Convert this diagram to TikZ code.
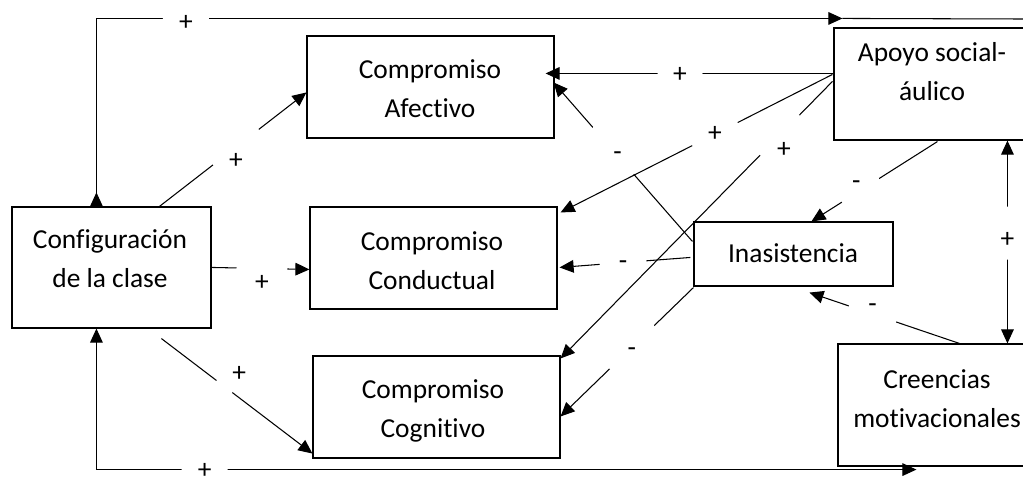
\documentclass[tikz,border=0pt]{standalone}
\usepackage{fontspec}
\setmainfont{Carlito}[Ligatures=NoCommon]
\usetikzlibrary{calc,fit,arrows.meta}

\begin{document}
\begin{tikzpicture}[x=0.025cm, y=-0.025cm,
  >={Triangle[length=10pt,width=9pt]},
  box/.style={draw, line width=0.8pt, inner sep=0pt},
  txt/.style={align=center, inner sep=0pt, font=\fontsize{19.5}{27.7}\selectfont},
  conn/.style={line width=0.75pt},
  gap/.style={circle, fill=white, inner sep=0pt, minimum size=#1*0.025cm},
  sign/.style={inner sep=0pt, font=\fontsize{19.5}{22}\selectfont}]

\useasboundingbox (0,0) rectangle (1023,481);
\clip (0,0) rectangle (1023,481);

%boxes
\node[box, fit={(12,207) (211,328)}] (cfg) {};
\node[box, fit={(307,36) (554,138)}] (afe) {};
\node[box, fit={(310,207) (557,309)}] (con) {};
\node[box, fit={(313,356) (560,458)}] (cog) {};
\node[box, fit={(834,28) (1030,140)}] (apo) {};
\node[box, fit={(694,222) (893,286)}] (ina) {};
\node[box, fit={(838,344) (1036,466)}] (cre) {};

%texts
\node[txt] (cfg-t) at (110,259) {Configuración\\de la clase};
\node[txt] (afe-t) at (430,89) {Compromiso\\Afectivo};
\node[txt] (con-t) at (432,261) {Compromiso\\Conductual};
\node[txt] (cog-t) at (433,411) {Compromiso\\Cognitivo};
\node[txt] (apo-t) at (932,72) {Apoyo social-\\áulico};
\node[txt] (ina-t) at (793,253) {Inasistencia};
\node[txt] (cre-t) at (937,399) {Creencias\\motivacionales};

%crossing lines first
\draw[conn, ->] ($(ina.north west)+(-1,20)$) -- node[gap=62, pos=.57, label={[sign, name=s-e, xshift=3pt, yshift=-4pt]center:-}] (g-e) {} ($(afe.north east)+(-1,47)$);
\draw[conn, ->] ($(ina.north west)+(-3,36)$) -- node[gap=47, pos=.515, label={[sign, name=s-k, yshift=-1.5pt]center:-}] (g-k) {} ($(con.north east)+(2,61)$);
\draw[conn, ->] ($(ina.south west)+(0,1)$) -- node[gap=62, pos=.463, label={[sign, name=s-l, yshift=-3.5pt]center:-}] (g-l) {} ($(cog.north east)+(0,61)$);
\draw[conn, ->] ($(apo.north west)+(-1,54)$) -- node[gap=56, pos=.194, label={[sign, name=s-g, xshift=3pt, yshift=-10.5pt]center:+}] (g-g) {} ($(cog.north east)+(0,3)$);
\draw[conn, ->] ($(apo.north west)+(-1,47)$) -- node[gap=51, pos=.432, label={[sign, name=s-f]center:+}] (g-f) {} ($(con.north east)+(3,6)$);
\draw[conn, ->] ($(apo.north west)+(0,46)$) -- node[gap=45, pos=.533, label={[sign, name=s-d, yshift=-1pt]center:+}] (g-d) {} ($(afe.north east)+(-9,38)$);

%class to engagement
\draw[conn, ->] ($(cfg.north west)+(148,0)$) -- node[gap=58, pos=.52, label={[sign, name=s-a, yshift=-10pt]center:+}] (g-a) {} ($(afe.north west)+(0,57)$);
\draw[conn, ->] ($(cfg.north east)+(0,61)$) -- node[gap=51, pos=.515, label={[sign, name=s-b, yshift=-10pt]center:+}] (g-b) {} ($(con.north west)+(0,63)$);
\draw[conn, ->] ($(cfg.south west)+(150,10)$) -- node[gap=20, pos=.417, label={[sign, name=s-c, xshift=10.5pt, yshift=9pt]center:+}] (g-c) {} ($(cog.south west)+(0,-5)$);

%right side
\draw[conn, ->] ($(apo.south west)+(104,1)$) -- node[gap=44, pos=.611, label={[sign, name=s-h, xshift=-3pt, yshift=3.5pt]center:-}] (g-h) {} ($(ina.north west)+(118,0)$);
\draw[conn, <->] ($(apo.south west)+(174,0)$) -- node[gap=53, pos=.456, label={[sign, name=s-i, yshift=-5pt]center:+}] (g-i) {} ($(cre.north west)+(170,0)$);
\draw[conn, ->] ($(cre.north west)+(122,0)$) -- node[gap=50, pos=.58, label={[sign, name=s-j, yshift=4pt]center:-}] (g-j) {} ($(ina.south west)+(116,6)$);

%loops
\coordinate (tarr) at ($(apo.north west)+(9,-9)$);
\coordinate (tend) at (1023,19);
\draw[conn, {Triangle[reversed,length=10pt,width=9pt]}->] ($(cfg.north west)+(85,0)$) |- node[gap=46, pos=.56, label={[sign, name=s-m, yshift=-3.5pt]center:+}] (g-m) {} (tarr);
\draw[conn] (tarr) -- (tend);
\draw[conn, <->] ($(cfg.south west)+(85,0)$) |- node[gap=46, pos=.566, label={[sign, name=s-n, yshift=-1pt]center:+}] (g-n) {} ($(cre.south west)+(79,3)$);
\end{tikzpicture}
\end{document}
